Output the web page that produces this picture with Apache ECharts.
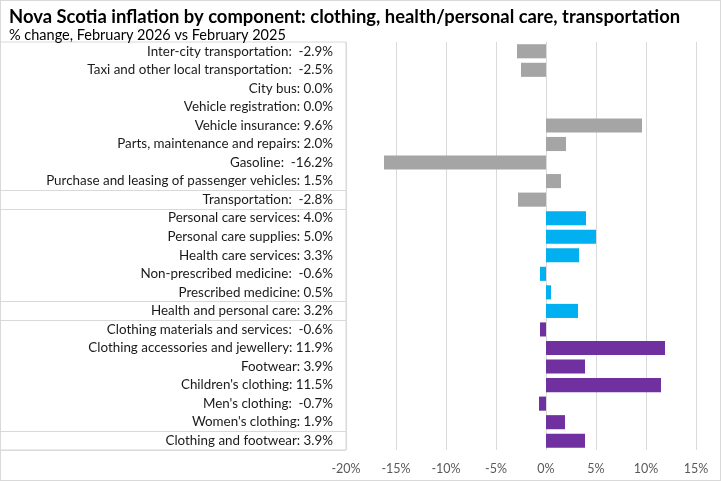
<!DOCTYPE html>
<html><head><meta charset="utf-8">
<script src="https://cdn.jsdelivr.net/npm/echarts@6/dist/echarts.min.js"></script>
<style>html,body{margin:0;padding:0;background:#fff}#c{width:721px;height:481px}#frame{position:absolute;left:0;top:0;width:719px;height:479px;border:1px solid #d9d9d9;pointer-events:none}</style>
</head><body><div id="c"></div><div id="frame"></div>
<script>
const categories = ['Inter-city transportation','Taxi and other local transportation','City bus','Vehicle registration','Vehicle insurance','Parts, maintenance and repairs','Gasoline','Purchase and leasing of passenger vehicles','Transportation','Personal care services','Personal care supplies','Health care services','Non-prescribed medicine','Prescribed medicine','Health and personal care','Clothing materials and services','Clothing accessories and jewellery','Footwear',"Children's clothing","Men's clothing","Women's clothing",'Clothing and footwear'];
const values = [-2.9,-2.5,0.0,0.0,9.6,2.0,-16.2,1.5,-2.8,4.0,5.0,3.3,-0.6,0.5,3.2,-0.6,11.9,3.9,11.5,-0.7,1.9,3.9];
const groups = ['t','t','t','t','t','t','t','t','t','h','h','h','h','h','h','c','c','c','c','c','c','c'];
const groupColors = {t:'#a5a5a5', h:'#00b0f0', c:'#7030a0'};
const groupStarts = [8,9,14,15,21];
const xMin = -20, xMax = 17.5, xStep = 5;

const fmt = v => ': ' + (v < 0 ? ' ' : '') + v.toFixed(1) + '%';
const labels = categories.map((c,i) => c + fmt(values[i]));
const font = 'Lato';
const chart = echarts.init(document.getElementById('c'));
chart.setOption({
  animation:false,
  textStyle:{fontFamily:font},
  title:[
    {text:'Nova Scotia inflation by component: clothing, health/personal care, transportation', left:4, top:3,
     textStyle:{fontFamily:font, fontSize:18.4, fontWeight:'bold', color:'#000'}},
    {text:'% change, February 2026 vs February 2025', left:4, top:23,
     textStyle:{fontFamily:font, fontSize:14.5, fontWeight:'normal', color:'#000'}}
  ],
  grid:[
    {left:346, width:375, top:42, bottom:31, outerBoundsMode:'none', containLabel:false},
    {left:0, width:346, top:42, bottom:31, outerBoundsMode:'none', show:true, borderColor:'#d9d9d9', borderWidth:1, backgroundColor:'transparent'}
  ],
  xAxis:[
    {type:'value', gridIndex:0, min:xMin, max:xMax, interval:xStep,
     axisLine:{show:false}, axisTick:{show:false},
     splitLine:{lineStyle:{color:'#d9d9d9'}},
     axisLabel:{color:'#595959', fontSize:12.5, margin:12, formatter:v=>(v % xStep === 0 ? v+'%' : '')}},
    {type:'value', gridIndex:1, show:false, min:0, max:1}
  ],
  yAxis:[
    {type:'category', gridIndex:0, data:labels, inverse:true,
     axisLine:{show:false}, axisTick:{show:false}, splitLine:{show:false},
     axisLabel:{color:'#1a1a1a', fontSize:13.4, margin:13}},
    {type:'category', gridIndex:1, data:categories, inverse:true,
     axisLine:{show:false}, axisTick:{show:false}, axisLabel:{show:false},
     splitLine:{show:true, interval:(i)=>groupStarts.includes(i), lineStyle:{color:'#d9d9d9'}}}
  ],
  series:[{
    type:'bar', xAxisIndex:0, yAxisIndex:0, barCategoryGap:'24%',
    data: values.map((v,i)=>({value:v, itemStyle:{color:groupColors[groups[i]]}}))
  }]
});
</script></body></html>
